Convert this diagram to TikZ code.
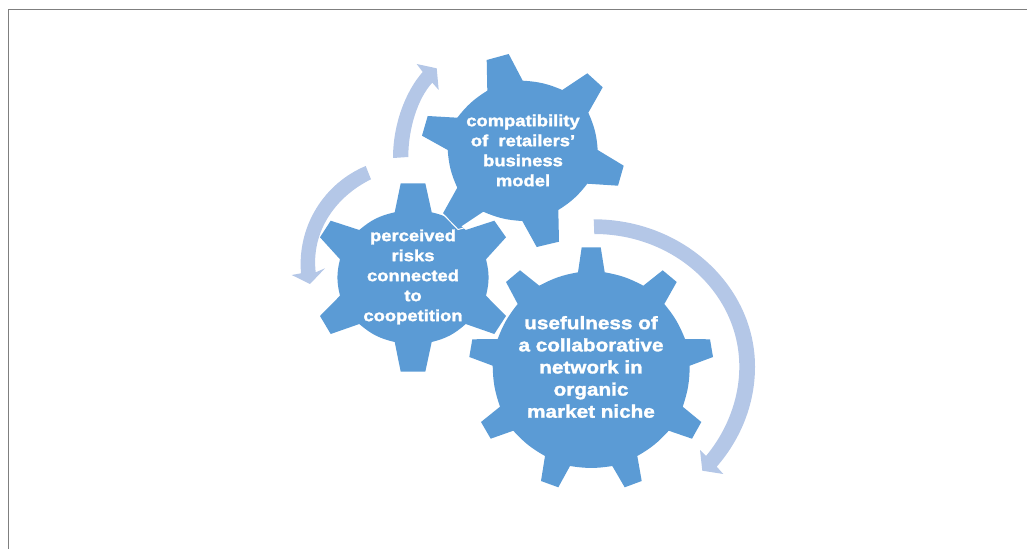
\documentclass[tikz,border=0pt]{standalone}
\usepackage{fontspec}
\setmainfont{Liberation Sans}
\newfontfamily\gearfont[FakeStretch=1.15,FakeBold=1.8]{Liberation Sans Bold}
\definecolor{gearblue}{HTML}{5B9BD5}
\definecolor{arrowblue}{HTML}{B4C7E7}
\definecolor{framegray}{HTML}{7F7F7F}
\tikzset{
  gearshape/.style={fill=gearblue,draw=none},
  cyclearrow/.style={fill=arrowblue,draw=none},
  gearsmall/.style={text=white,align=center,font=\gearfont\fontsize{12}{15}\selectfont,inner sep=0pt},
  gearlarge/.style={text=white,align=center,font=\gearfont\fontsize{13.5}{16.6}\selectfont,inner sep=0pt},
  rim/.style={bend left=#1}
}
\begin{document}
\begin{tikzpicture}[x=.75pt,y=-.75pt]
\useasboundingbox (0,0) rectangle (1027,549);
\draw[framegray,line width=1.1pt] (8.5,549) -- (8.5,9.5) -- (1027,9.5);

% cycle arrows
\fill[cyclearrow] (393,158) .. controls (393,125) and (405,92) .. (422.7,72)
  -- (416.7,64) -- (436.7,68.3) -- (438.7,90) -- (432.3,82.7)
  .. controls (418,98) and (408.3,128) .. (408.3,157) -- cycle;
\fill[cyclearrow] (365.7,166) .. controls (325,183) and (297,225) .. (301,273.3)
  -- (291.7,275) -- (310,284) -- (325,268.3) -- (315.7,272.3)
  .. controls (311,232) and (335,197) .. (371,179.3) -- cycle;
\fill[cyclearrow] (593.7,219.3) .. controls (682.6,219.3) and (755,285.6) .. (755,366.7)
  .. controls (755,405) and (740,440) .. (716.7,466.7)
  -- (723.3,474) -- (702.3,470.7) -- (700,450) -- (706,456)
  .. controls (726,432) and (739.3,400) .. (739.3,366.7)
  .. controls (739.3,293.3) and (674.3,234) .. (594.3,234) -- cycle;

% left gear
\fill[gearshape] (400.7,183.3) -- (425.3,183.3) -- (431.7,212.3)
  to[rim=14] (465.7,230) -- (494.3,220.7) -- (506,237.3) -- (486,259.3)
  to[rim=14] (486,295.7) -- (506,316) -- (494.3,334) -- (465.7,324)
  to[rim=14] (431.7,342) -- (425.3,371.7) -- (400.7,371.7) -- (394.7,342)
  to[rim=14] (359.3,324) -- (330.7,334) -- (320,316) -- (340,295.7)
  to[rim=14] (340,259.3) -- (320,237.3) -- (330.7,220.7) -- (359.3,230)
  to[rim=14] (394.7,212.3) -- cycle;

% top gear
\fill[gearshape] (486.7,60) -- (508.7,54) -- (522.7,80.7)
  to[rim=10] (562.3,90) -- (587.3,73.3) -- (602.7,87.3) -- (588.3,112.7)
  to[rim=10] (597.7,150) -- (623.7,165.7) -- (618,185.7) -- (587.3,183.7)
  to[rim=10] (558.3,210) -- (559,241.7) -- (536.7,247) -- (522.3,221)
  to[rim=10] (483.3,211.7) -- (458.3,228.3) -- (443,213.3) -- (457.3,187.7)
  to[rim=10] (447.7,150) -- (422,135.7) -- (427.7,116) -- (457.3,117.7)
  to[rim=10] (487.3,90.7) -- cycle;
\draw[white,line width=.75pt] (441.5,212.5) -- (458,229.5) -- (465.5,227.5);

% bottom gear, with the thin white seam where it meets the left gear
\draw[white,line width=1.5pt] (497.7,339) to[rim=9] (517.7,304);
\fill[gearshape] (581.7,247.3) -- (600.7,247.3) -- (604.7,272.3)
  to[rim=9] (643.3,285.7) -- (662.7,270.3) -- (676.7,282) -- (664.3,304)
  to[rim=9] (685,339) -- (710,339.3) -- (713,357) -- (689.7,365.7)
  to[rim=9] (682.7,406.7) -- (701.3,422) -- (692,438.7) -- (668.7,430.7)
  to[rim=9] (637.3,456) -- (641.7,481) -- (624.7,487.3) -- (612.3,466)
  to[rim=9] (570,466) -- (558.3,487.3) -- (541,481) -- (545,456)
  to[rim=9] (513.3,430.7) -- (490.7,438.7) -- (481,422) -- (500,406.7)
  to[rim=9] (492.7,365.7) -- (469.3,357) -- (472.3,339.3) -- (497.7,339)
  to[rim=9] (517.7,304) -- (506,282) -- (520,270.3) -- (539.3,285.7)
  to[rim=9] (578,272.3) -- cycle;

% labels
\node[gearsmall] (compat) at (523,150.5) {compatibility\\of\ \ retailers’\\business\\model};
\node[gearsmall] (risks) at (413,277) {perceived\\risks\\connected\\to\\coopetition};
\node[gearlarge] (useful) at (591,367) {usefulness of\\a collaborative\\network in\\organic\\market niche};
\end{tikzpicture}
\end{document}
